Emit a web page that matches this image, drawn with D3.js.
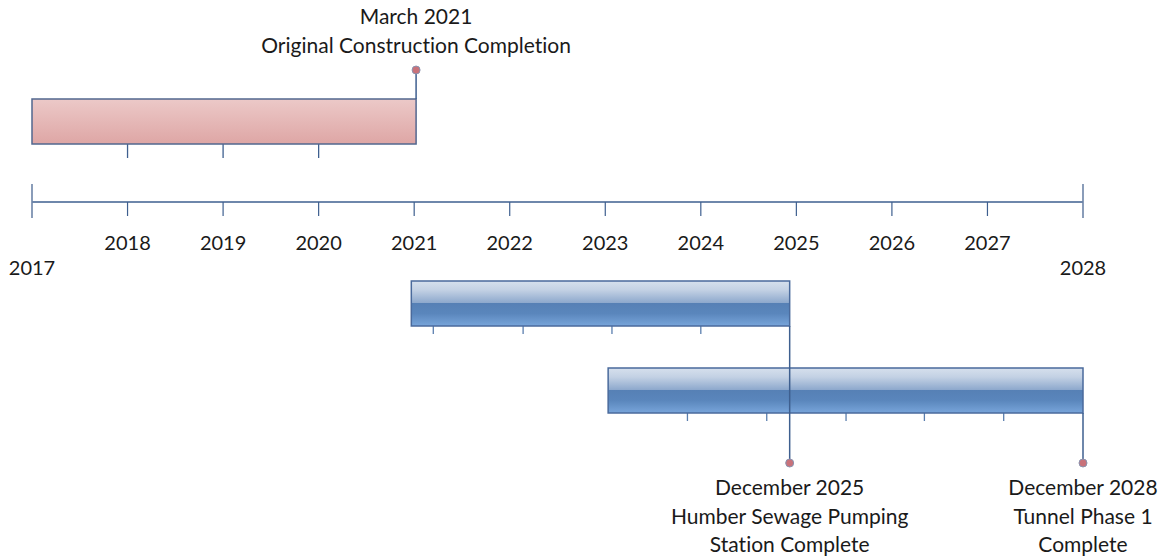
<!DOCTYPE html>
<html><head><meta charset="utf-8">
<script src="https://cdn.jsdelivr.net/npm/d3@7"></script>
<style>body{margin:0;background:#fff}svg{display:block}text{font-family:Lato,"Open Sans",sans-serif;fill:#1a1a1a;font-variant-ligatures:none}</style>
</head><body><svg id="c" width="1165" height="557"></svg>
<script>
// ---- data ----
const axisYears = [2017,2018,2019,2020,2021,2022,2023,2024,2025,2026,2027,2028];
const barNames = ["Original Construction","Humber Sewage Pumping Station","Tunnel Phase 1"];
const barStart = [2017.0, 2020.97, 2023.03];
const barEnd   = [2021.02, 2024.93, 2028.0];
const barTicks = [[2018,2019,2020],[2021.2,2022.14,2023.07,2024.0],[2023.86,2024.69,2025.52,2026.34,2027.17]];
const barStyle = ["pink","blue","blue"];
const milestoneDate = [2021.02, 2024.93, 2028.0];
const milestoneLines = [["March 2021","Original Construction Completion"],["December 2025","Humber Sewage Pumping","Station Complete"],["December 2028","Tunnel Phase 1","Complete"]];
const milestoneBar = [0,1,2];
const milestoneSide = ["above","below","below"];

const svg = d3.select("#c");
const x = d3.scaleLinear().domain([2017,2028]).range([32,1083]);
const rowY = d3.scaleOrdinal().domain([0,1,2]).range([99,281,368]);
const barH = 45;
const axisY = 202;
const lineCol = "#3e5f8f";

const defs = svg.append("defs");
const gp = defs.append("linearGradient").attr("id","gPink").attr("x1",0).attr("y1",0).attr("x2",0).attr("y2",1);
gp.append("stop").attr("offset","0%").attr("stop-color","#ecc9c8");
gp.append("stop").attr("offset","100%").attr("stop-color","#dea6a5");
const gb = defs.append("linearGradient").attr("id","gBlue").attr("x1",0).attr("y1",0).attr("x2",0).attr("y2",1);
[["0%","#d6e0ed"],["20%","#c3d1e4"],["48%","#8ea9cd"],["49%","#5680b5"],["72%","#5a86bc"],["100%","#78a5da"]]
  .forEach(([o,c])=>gb.append("stop").attr("offset",o).attr("stop-color",c));

// main axis
svg.append("line").attr("x1",x(2017)).attr("x2",x(2028)).attr("y1",axisY).attr("y2",axisY)
  .attr("stroke",lineCol).attr("stroke-width",1.5);
axisYears.forEach((yr,i)=>{
  const end = i===0 || i===axisYears.length-1;
  svg.append("line").attr("x1",x(yr)).attr("x2",x(yr))
    .attr("y1",end?184:axisY).attr("y2",end?218:216)
    .attr("stroke",end?"#6d84a8":lineCol).attr("stroke-width",end?1.6:1.2);
  svg.append("text").attr("x",x(yr)).attr("y",end?275:250).attr("text-anchor","middle")
    .attr("font-size",20).text(yr);
});

// bars
barNames.forEach((n,i)=>{
  const y0 = rowY(i);
  barTicks[i].forEach(t=>{
    svg.append("line").attr("x1",x(t)).attr("x2",x(t)).attr("y1",y0+barH).attr("y2",y0+barH+ (i===0?14:8))
      .attr("stroke",barStyle[i]==="pink"?lineCol:"#5a7eae").attr("stroke-width",1.3);
  });
  svg.append("rect").attr("x",x(barStart[i])).attr("y",y0)
    .attr("width",x(barEnd[i])-x(barStart[i])).attr("height",barH)
    .attr("fill",barStyle[i]==="pink"?"url(#gPink)":"url(#gBlue)")
    .attr("stroke",barStyle[i]==="pink"?"#52678f":"#4a6a9c").attr("stroke-width",1.5);
});

// milestones
milestoneDate.forEach((d,i)=>{
  const mx = x(d);
  const b = milestoneBar[i];
  let y1,y2,dotY;
  if(milestoneSide[i]==="above"){ y1=rowY(b); dotY=70; y2=dotY; }
  else { y1=rowY(b)+barH; dotY=463; y2=dotY; }
  svg.append("line").attr("x1",mx).attr("x2",mx).attr("y1",y1).attr("y2",y2)
    .attr("stroke",lineCol).attr("stroke-width",1.5);
  svg.append("circle").attr("cx",mx).attr("cy",dotY).attr("r",4)
    .attr("fill","#c9727a").attr("stroke","#8a94b0").attr("stroke-width",1);
  const lines = milestoneLines[i];
  const baseY = milestoneSide[i]==="above" ? 24 : 495;
  lines.forEach((t,k)=>{
    svg.append("text").attr("x",mx).attr("y",baseY+k*28.5).attr("text-anchor","middle")
      .attr("font-size",21).text(t);
  });
});
</script></body></html>
